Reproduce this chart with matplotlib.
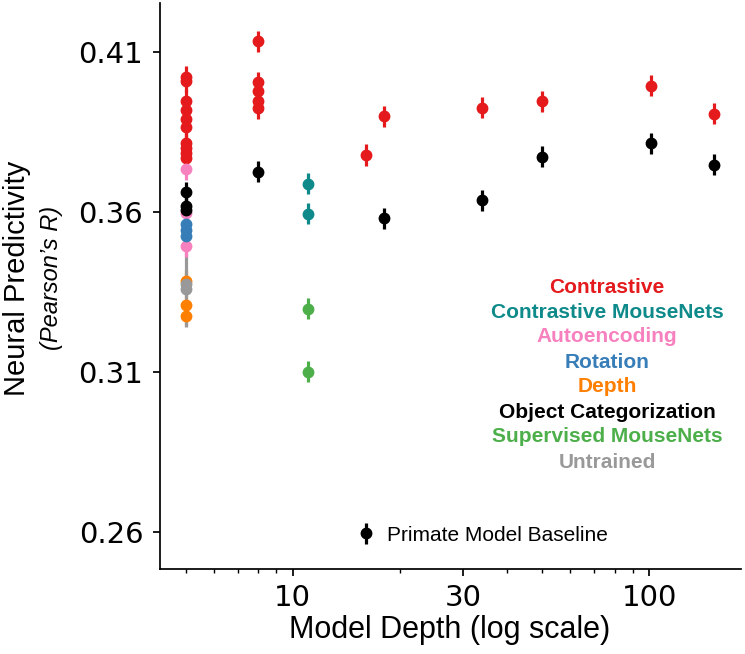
import numpy as np
import matplotlib
matplotlib.use('Agg')
import matplotlib.pyplot as plt
from matplotlib.ticker import LogLocator, NullFormatter, FixedLocator

# data (depth, Pearson's R, error)
contrastive_depth = [5]*10 + [8]*5 + [16, 18, 34, 50, 101, 152]
contrastive_r = [0.4022, 0.4009, 0.3947, 0.3919, 0.3891, 0.3866, 0.3816, 0.3800, 0.3784, 0.3769,
                 0.4134, 0.4005, 0.3978, 0.3948, 0.3925,
                 0.3778, 0.3899, 0.3926, 0.3946, 0.3995, 0.3907]

cmouse_depth = [11, 11]
cmouse_r = [0.3688, 0.3595]

auto_depth = [5, 5, 5]
auto_r = [0.3733, 0.3597, 0.3493]

rot_depth = [5, 5, 5]
rot_r = [0.3563, 0.3543, 0.3525]

depth_depth = [5, 5, 5]
depth_r = [0.3385, 0.3309, 0.3275]

untrained_depth = [5, 5]
untrained_r = [0.3375, 0.3360]
untrained_err = [0.0033, 0.0120]

objcat_depth = [5, 5, 5, 8, 18, 34, 50, 101, 152]
objcat_r = [0.3662, 0.3620, 0.3606, 0.3726, 0.3580, 0.3637, 0.3772, 0.3815, 0.3747]

smouse_depth = [11, 11]
smouse_r = [0.3297, 0.3100]

err = 0.0033

labels = ['Contrastive', 'Contrastive MouseNets', 'Autoencoding', 'Rotation', 'Depth',
          'Object Categorization', 'Supervised MouseNets', 'Untrained']
colors = ['#e41a1c', '#0f8a8a', '#f781bf', '#377eb8', '#ff7f00', 'black', '#4daf4a', '#999999']

fig = plt.figure(figsize=(7.45, 6.54), dpi=100)
ax = fig.add_axes([160/745, 1-569/654, 581/745, 566/654])

kw = dict(fmt='o', ms=7.5, elinewidth=2.3, capsize=0)
ax.errorbar(contrastive_depth, contrastive_r, yerr=err, color=colors[0], **kw)
ax.errorbar(cmouse_depth, cmouse_r, yerr=err, color=colors[1], **kw)
ax.errorbar(depth_depth, depth_r, yerr=err, color=colors[4], **kw)
ax.errorbar(untrained_depth, untrained_r, yerr=untrained_err, color=colors[7], **kw)
ax.errorbar(auto_depth, auto_r, yerr=err, color=colors[2], **kw)
ax.errorbar(rot_depth, rot_r, yerr=err, color=colors[3], **kw)
base = ax.errorbar(objcat_depth, objcat_r, yerr=err, color=colors[5], label='Primate Model Baseline', **kw)
ax.errorbar(smouse_depth, smouse_r, yerr=err, color=colors[6], **kw)

ax.set_xscale('log')
ax.set_xlim(4.24, 181)
ax.set_ylim(0.2484, 0.4253)
ax.xaxis.set_major_locator(FixedLocator([10, 30, 100]))
ax.set_xticklabels(['10', '30', '100'])
ax.xaxis.set_minor_locator(LogLocator(subs=np.arange(2, 10)))
ax.xaxis.set_minor_formatter(NullFormatter())
ax.set_yticks([0.26, 0.31, 0.36, 0.41])
ax.set_yticklabels(['0.26', '0.31', '0.36', '0.41'])
ax.tick_params(axis='both', which='major', labelsize=21, length=5, width=1.25)
ax.tick_params(axis='x', which='minor', length=3, width=1)
ax.tick_params(axis='y', pad=7)
ax.tick_params(axis='x', pad=6)
for s in ['top', 'right']:
    ax.spines[s].set_visible(False)
for s in ['left', 'bottom']:
    ax.spines[s].set_linewidth(1.25)

hf = 'Liberation Sans'
fig.text(450/745, 1-630/654, 'Model Depth (log scale)', ha='center', va='center',
         fontsize=22, family=hf)
fig.text(17/745, 1-278/654, 'Neural Predictivity', rotation=90, ha='center', va='center',
         fontsize=21, family=hf)
fig.text(52/745, 1-278/654, '(Pearson\u2019s R)', rotation=90, ha='center', va='center',
         fontsize=17, family=hf, style='italic')

for i, (lab, c) in enumerate(zip(labels, colors)):
    fig.text(607/745, 1-(287+25*i)/654, lab, ha='center', va='center', color=c,
             fontsize=15, fontweight='bold', family=hf)

leg = ax.legend(handles=[base], loc='center', bbox_to_anchor=(0.554, 0.06), frameon=False,
                prop={'family': hf, 'size': 15}, handlelength=1.0, handletextpad=0.5)

fig.savefig('out.png', dpi=100)
